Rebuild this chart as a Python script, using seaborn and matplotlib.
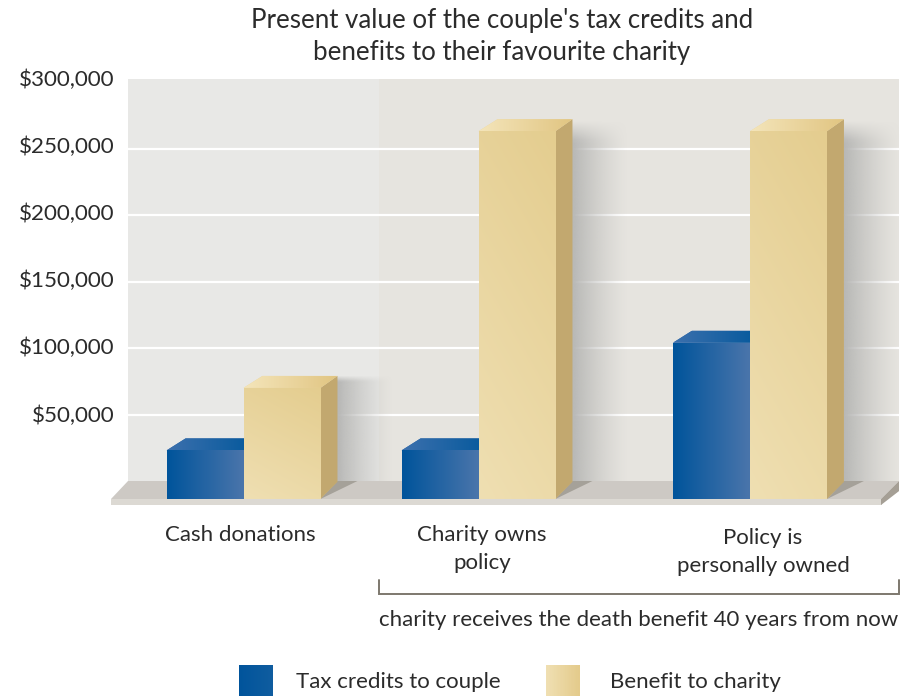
import numpy as np
import pandas as pd
import seaborn as sns
import matplotlib
matplotlib.use("Agg")
import matplotlib.pyplot as plt
from matplotlib.colors import to_rgb
from matplotlib.legend_handler import HandlerPatch
from matplotlib.patches import Patch, Polygon, Rectangle
from matplotlib.transforms import ScaledTranslation

# Chart values
groups = ["Cash donations", "Charity owns\npolicy", "Policy is\npersonally owned"]
series_names = ["Tax credits to couple", "Benefit to charity"]
tax_credits = [23000, 23000, 104000]
charity_benefit = [70000, 263000, 263000]
y_ticks = [50000, 100000, 150000, 200000, 250000, 300000]
y_tick_labels = ["$50,000", "$100,000", "$150,000", "$200,000", "$250,000", "$300,000"]

# Layout: the x axis runs in pixels of the wall, the y axis in dollars
W, H = 907, 696
WALL_L, WALL_R, WALL_T, WALL_B = 128, 899, 79, 481
PX_PER_DOLLAR = 66.5 / 50000
group_x = [243.5, 478.5, 750.0]
label_x = [240, 482, 763]
DIVIDER_X = 379
FLOOR_Y = -18 / PX_PER_DOLLAR
LIP_Y = -24 / PX_PER_DOLLAR
FLOOR_DX = 18
DEPTH_R, DEPTH_L = 17, 19
DEPTH_Y = 12 / PX_PER_DOLLAR
SHADOW_W = 56
FONT = "Lato"
INK = "#2b2b2b"

sns.set_theme(style="white")
plt.rcParams["font.family"] = [FONT, "DejaVu Sans"]

fig = plt.figure(figsize=(W / 100, H / 100), dpi=100, facecolor="white")
ax = fig.add_axes([WALL_L / W, 1 - WALL_B / H,
                   (WALL_R - WALL_L) / W, (WALL_B - WALL_T) / H])

df = pd.DataFrame({
    "x": group_x * 2,
    "value": tax_credits + charity_benefit,
    "series": [series_names[0]] * 3 + [series_names[1]] * 3,
})
sns.barplot(data=df, x="x", y="value", hue="series", hue_order=series_names,
            native_scale=True, width=0.655, gap=0, saturation=1,
            palette=["#2a66a3", "#e8d49c"], legend=False, ax=ax, zorder=5)


def gradient(extent, c0, c1, angle, zorder, clip=None, alpha=None):
    """Paint a linear colour ramp over extent, optionally clipped to a patch."""
    u, v = np.meshgrid(np.linspace(0, 1, 80), np.linspace(0, 1, 80))
    a = np.deg2rad(angle)
    t = u * np.cos(a) + v * np.sin(a)
    t = (t - t.min()) / (t.max() - t.min())
    rgb = np.outer(1 - t.ravel(), to_rgb(c0)) + np.outer(t.ravel(), to_rgb(c1))
    img = np.dstack([rgb.reshape(80, 80, 3), np.ones((80, 80)) if alpha is None else alpha(u, v)])
    im = ax.imshow(img, extent=extent, origin="lower", aspect="auto",
                   interpolation="bilinear", zorder=zorder)
    if clip is not None:
        im.set_clip_path(clip)
    return im


# Back wall in two tones with white gridlines
ax.axvspan(WALL_L, DIVIDER_X, color="#e8e8e6", lw=0, zorder=0)
ax.axvspan(DIVIDER_X, WALL_R, color="#e6e4df", lw=0, zorder=0)
ax.set_axisbelow(True)
ax.yaxis.grid(True, color="white", lw=1.6)
ax.xaxis.grid(False)

# Floor slab
ax.add_patch(Polygon([(WALL_L, 0), (WALL_R, 0), (WALL_R - FLOOR_DX, FLOOR_Y),
                      (WALL_L - FLOOR_DX + 1, FLOOR_Y)],
                     color="#cdc9c4", lw=0, clip_on=False, zorder=2))
ax.add_patch(Rectangle((WALL_L - FLOOR_DX + 1, LIP_Y), WALL_R - WALL_L, FLOOR_Y - LIP_Y,
                       color="#dcd9d3", lw=0, clip_on=False, zorder=2))
ax.add_patch(Polygon([(WALL_R - FLOOR_DX, FLOOR_Y), (WALL_R, 0),
                      (WALL_R, LIP_Y * 0.42), (WALL_R - FLOOR_DX, LIP_Y)],
                     color="#a59f95", lw=0, clip_on=False, zorder=2))

blue_bars, yellow_bars = ax.containers[0], ax.containers[1]

# Extend every front face down to the front edge of the floor
for bar in list(blue_bars) + list(yellow_bars):
    top = bar.get_height()
    bar.set_y(FLOOR_Y)
    bar.set_height(top - FLOOR_Y)
    bar.set_linewidth(0)
    bar.set_clip_on(False)

for bar in blue_bars:
    x0, x1 = bar.get_x(), bar.get_x() + bar.get_width()
    y0, y1 = bar.get_y(), bar.get_y() + bar.get_height()
    gradient((x0, x1, y0, y1), "#00549b", "#4a75ab", 0, 5.1, clip=bar)
    top_face = Polygon([(x0, y1), (x1, y1), (x1 + DEPTH_R, y1 + DEPTH_Y), (x0 + DEPTH_L, y1 + DEPTH_Y)],
                       transform=ax.transData, fc="#2f66a8", lw=0, clip_on=False, zorder=4.9)
    ax.add_patch(top_face)
    gradient((x0, x1 + DEPTH_R, y1, y1 + DEPTH_Y), "#3c70ad", "#00579b", 0, 4.95, clip=top_face)

for bar in yellow_bars:
    x0, x1 = bar.get_x(), bar.get_x() + bar.get_width()
    y0, y1 = bar.get_y(), bar.get_y() + bar.get_height()
    gradient((x0, x1, y0, y1), "#efdfb2", "#e4cd8f", 70, 6.1, clip=bar)
    bar.set_zorder(6)

    top_face = Polygon([(x0, y1), (x1, y1), (x1 + DEPTH_R, y1 + DEPTH_Y), (x0 + DEPTH_L, y1 + DEPTH_Y)],
                       transform=ax.transData, fc="#ead59c", lw=0, clip_on=False, zorder=6)
    ax.add_patch(top_face)
    gradient((x0, x1 + DEPTH_R, y1, y1 + DEPTH_Y), "#f4e5ba", "#e1c582", 0, 6.1, clip=top_face)

    ax.add_patch(Polygon([(x1, y0), (x1, y1), (x1 + DEPTH_R, y1 + DEPTH_Y), (x1 + DEPTH_R, y0 + 18 / PX_PER_DOLLAR * 0.95)],
                         fc="#c2a86f", lw=0, clip_on=False, zorder=6))

    # Soft shadow on the wall and a cast shadow on the floor
    gradient((x1 + DEPTH_R, x1 + DEPTH_R + SHADOW_W, 0, y1 + DEPTH_Y),
             "#b8b8b6", "#b8b8b6", 0, 1,
             alpha=lambda u, v: np.clip((1 - u) ** 1.3, 0, 1) * np.clip((1 - v) * 18, 0, 1))
    ax.add_patch(Polygon([(x1, y0), (x1 + 37, 0), (x1 + DEPTH_R, 0)],
                         fc="#a5a199", lw=0, clip_on=False, zorder=3))

# Axes
ax.set_xlim(WALL_L, WALL_R)
ax.set_ylim(0, (WALL_B - WALL_T) / PX_PER_DOLLAR)
ax.set_xlabel("")
ax.set_ylabel("")
sns.despine(ax=ax, left=True, bottom=True)
ax.set_yticks(y_ticks, y_tick_labels, fontsize=16.1, color=INK)
ax.tick_params(axis="y", length=0, pad=9.5)
ax.yaxis.get_gridlines()[-1].set_visible(False)

# The dollar labels sit on a slightly wider pitch than the gridlines
for i, lab in enumerate(ax.get_yticklabels()):
    lab.set_transform(lab.get_transform() + ScaledTranslation(0, (1 + 0.7 * i) / 100, fig.dpi_scale_trans))

ax.set_xticks(label_x, groups, fontsize=16.0, color=INK, linespacing=1.45, va="top")
ax.tick_params(axis="x", length=0, pad=32)
third = ax.get_xticklabels()[2]
third.set_transform(third.get_transform() + ScaledTranslation(0, -3 / 100, fig.dpi_scale_trans))

# Title
fig.text(502 / W, 1 - 36.5 / H, "Present value of the couple's tax credits and\nbenefits to their favourite charity",
         ha="center", va="center", fontsize=18.6, color=INK, linespacing=1.33)

# Bracket spanning the two insurance scenarios
ax.plot([DIVIDER_X, DIVIDER_X, WALL_R, WALL_R],
        [-(580 - WALL_B) / PX_PER_DOLLAR, -(594 - WALL_B) / PX_PER_DOLLAR,
         -(594 - WALL_B) / PX_PER_DOLLAR, -(580 - WALL_B) / PX_PER_DOLLAR],
        color="#7d786e", lw=1.4, clip_on=False, solid_joinstyle="miter")
fig.text(639 / W, 1 - 620 / H, "charity receives the death benefit 40 years from now",
         ha="center", va="center", fontsize=16.0, color=INK)


class RampHandler(HandlerPatch):
    """Legend swatch drawn as a horizontal ramp of thin strips."""

    def __init__(self, c0, c1, strips=24):
        super().__init__()
        self.c0, self.c1, self.strips = np.array(to_rgb(c0)), np.array(to_rgb(c1)), strips

    def create_artists(self, legend, orig_handle, xdescent, ydescent, width, height, fontsize, trans):
        out = []
        for i in range(self.strips):
            t = i / (self.strips - 1)
            out.append(Rectangle((-xdescent + width * i / self.strips, -ydescent),
                                 width / self.strips + 0.4, height,
                                 fc=self.c0 * (1 - t) + self.c1 * t, lw=0, transform=trans))
        return out


# One legend per series, since the swatch-to-text gaps differ
fs = 16.0
fs_px = fs * 100 / 72
legend_specs = [
    (series_names[0], 239, 24, RampHandler("#00549b", "#0f5c9f")),
    (series_names[1], 546, 31, RampHandler("#efdfb2", "#e4cb8c")),
]
for name, left, text_gap, handler in legend_specs:
    handle = Patch(label=name)
    fig.legend(handles=[handle], frameon=False, fontsize=fs, labelcolor=INK,
               loc="center left", bbox_to_anchor=(left / W, 1 - 681 / H),
               borderaxespad=0, borderpad=0,
               handlelength=33 / fs_px, handleheight=1.87,
               handletextpad=text_gap / fs_px, handler_map={handle: handler})

fig.savefig("out.png", dpi=100)
